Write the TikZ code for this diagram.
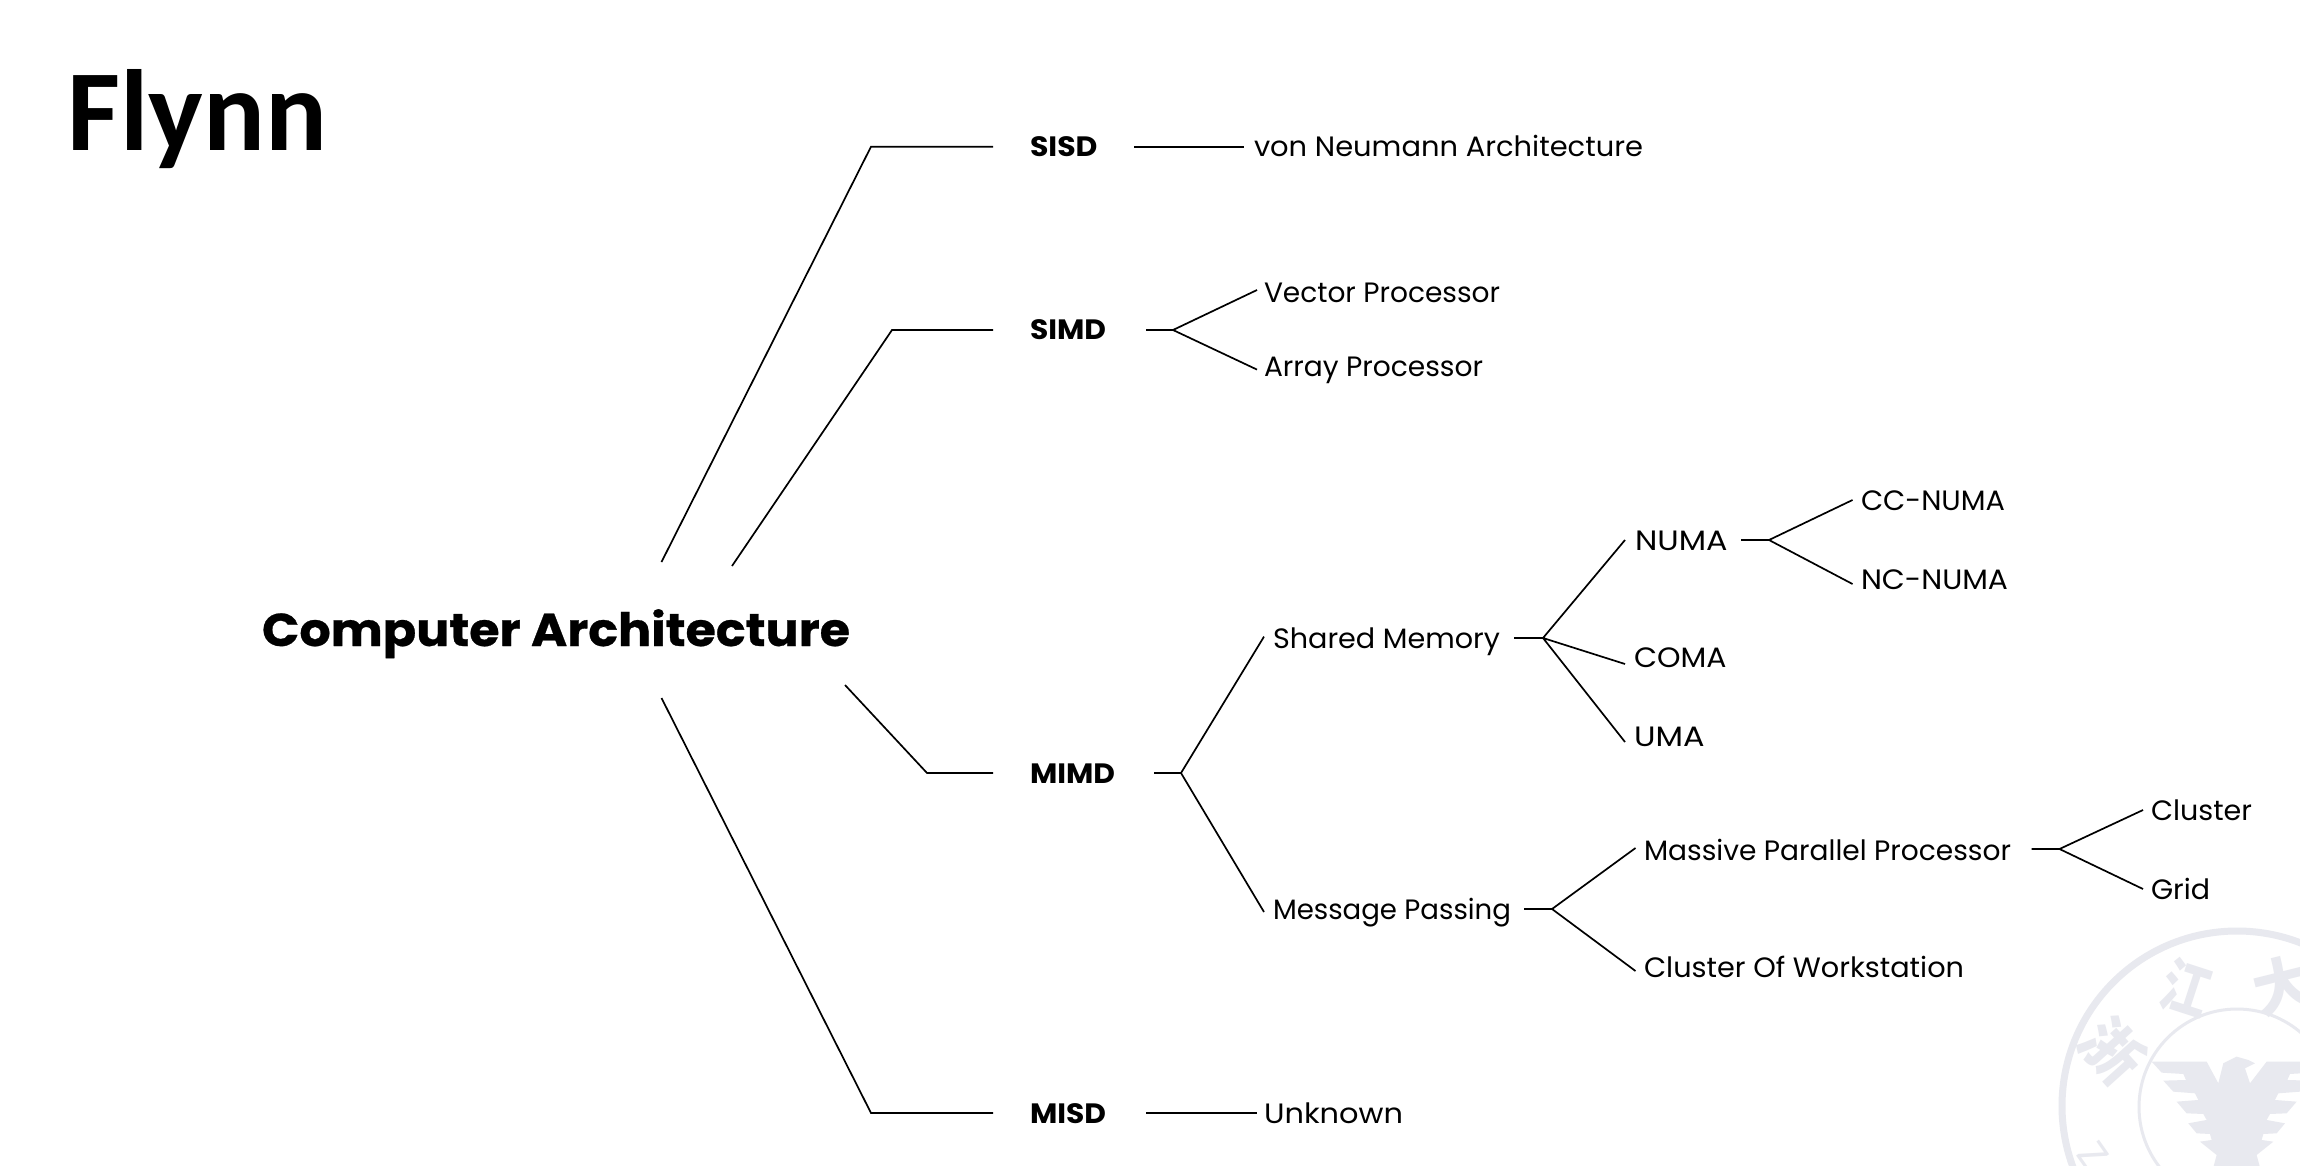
\documentclass[tikz,border=0pt]{standalone}
\usepackage{fontspec}
\usepackage{graphicx}
\setmainfont{Poppins}
\newfontfamily\titlefont{Carlito}
\newfontfamily\cjkfont{Noto Sans CJK SC}
\definecolor{wm}{HTML}{E8E9EF}
\newcommand{\fitw}[2]{\resizebox{#1pt}{\height}{#2}}
\tikzset{
  lab/.style={anchor=base west,inner sep=0pt,outer sep=0pt,font=\fontsize{28}{32}\selectfont,text=black},
  head/.style={lab,font=\fontsize{28}{32}\selectfont\bfseries},
  conn/.style={draw=black,line width=1.7pt,line join=miter},
  seal/.style={text=wm,inner sep=0pt,font=\fontsize{60}{60}\selectfont\cjkfont\bfseries}
}
\begin{document}
\begin{tikzpicture}[x=1pt,y=-1pt]
\useasboundingbox (0,0) rectangle (2300,1165);
\fill[white] (0,0) rectangle (2300,1165);
% watermark
\begin{scope}
\clip (0,0) rectangle (2300,1165);
\draw[wm,line width=7pt] (2237,1106) circle (175);
\draw[wm,line width=3pt] (2237,1107) circle (98);
\begin{scope}[shift={(1950,880)},x=0.3333pt,y=-0.3333pt]
\fill[wm] (605,545) -- (770,545) -- (805,610) -- (820,550) -- (860,530) -- (895,540) -- (915,550) -- (885,565) -- (900,610)
 -- (950,545) -- (1115,545) -- (1085,578) -- (1020,582) -- (1012,600) -- (1080,602) -- (1050,635) -- (985,640) -- (975,660) -- (1040,665) -- (1010,700) -- (960,702) -- (950,720) -- (1005,730) -- (980,760) -- (940,762) -- (935,780) -- (970,785) -- (920,825) -- (940,900)
 -- (780,900) -- (800,825) -- (750,785) -- (785,780) -- (780,762) -- (740,760) -- (715,730) -- (770,720) -- (760,702) -- (710,700) -- (680,665) -- (745,660) -- (735,640) -- (670,635) -- (640,602) -- (708,600) -- (700,582) -- (635,578) -- cycle;
\end{scope}
\node[seal,rotate=-48] (zhe) at (2113,1050) {浙};
\node[seal,rotate=-18,xscale=0.8] (jiang) at (2186,988) {江};
\node[seal,rotate=14] (da) at (2283,985) {大};
\node[seal,font=\fontsize{40}{40}\selectfont,rotate=-55] (zj) at (2093,1155) {Z};
\end{scope}
% title
\node[anchor=base west,inner sep=0pt,font=\fontsize{115.5}{120}\selectfont\titlefont\bfseries] (title) at (67,150) {Flynn};
% labels
\node[head,font=\fontsize{46}{50}\selectfont\bfseries\addfontfeature{FakeBold=0.6}] (root) at (262,646) {\fitw{588}{Computer Architecture}};
\node[head] (sisd) at (1030,156) {\fitw{67.5}{SISD}};
\node[head] (simd) at (1030,339) {\fitw{76}{SIMD}};
\node[head] (mimd) at (1030,783) {\fitw{85}{MIMD}};
\node[head] (misd) at (1030,1123) {\fitw{76}{MISD}};
\node[lab] (von) at (1254,156) {\fitw{389}{von Neumann Architecture}};
\node[lab] (vec) at (1264,302) {\fitw{236}{Vector Processor}};
\node[lab] (arr) at (1264,376) {\fitw{219}{Array Processor}};
\node[lab] (shared) at (1273,648) {\fitw{227}{Shared Memory}};
\node[lab] (msg) at (1273,919) {\fitw{238}{Message Passing}};
\node[lab] (numa) at (1635,550) {\fitw{92.5}{NUMA}};
\node[lab] (coma) at (1634,667) {\fitw{92.5}{COMA}};
\node[lab] (uma) at (1634,746) {\fitw{70.5}{UMA}};
\node[lab] (cc) at (1861,510) {\fitw{144}{CC-NUMA}};
\node[lab] (nc) at (1861,589) {\fitw{147}{NC-NUMA}};
\node[lab] (mpp) at (1644,860) {\fitw{367}{Massive Parallel Processor}};
\node[lab] (cow) at (1644,977) {\fitw{320}{Cluster Of Workstation}};
\node[lab] (cluster) at (2151,820) {\fitw{101}{Cluster}};
\node[lab] (grid) at (2151,899) {\fitw{59}{Grid}};
\node[lab] (unk) at (1264,1123) {\fitw{139}{Unknown}};
% coordinates
\coordinate (r1) at (661.5,562); \coordinate (k1) at (871,146.7); \coordinate (e1) at (993,146.7);
\coordinate (r2) at (732,566); \coordinate (k2) at (892,330); \coordinate (e2) at (993,330);
\coordinate (r3) at (845,685); \coordinate (k3) at (927,773); \coordinate (e3) at (993,773);
\coordinate (r4) at (661.5,698); \coordinate (k4) at (871,1113); \coordinate (e4) at (993,1113);
\coordinate (sisdR) at (1134,146.7); \coordinate (vonL) at (1244,146.7);
\coordinate (simdR) at (1146,330); \coordinate (simdF) at (1173,330); \coordinate (vecL) at (1257,290); \coordinate (arrL) at (1257,369.6);
\coordinate (mimdR) at (1154,773); \coordinate (mimdF) at (1181,773); \coordinate (sharedL) at (1264,636.6); \coordinate (msgL) at (1264,912);
\coordinate (sharedR) at (1514,638); \coordinate (sharedF) at (1543,638); \coordinate (numaL) at (1625,540); \coordinate (comaL) at (1625,664); \coordinate (umaL) at (1625,742);
\coordinate (numaR) at (1741,540); \coordinate (numaF) at (1769,540); \coordinate (ccL) at (1852.5,500); \coordinate (ncL) at (1852.5,584);
\coordinate (msgR) at (1524,909); \coordinate (msgF) at (1552,909); \coordinate (mppL) at (1635.5,848); \coordinate (cowL) at (1635.5,971);
\coordinate (mppR) at (2031.5,849); \coordinate (mppF) at (2059.5,849); \coordinate (clusterL) at (2143,810); \coordinate (gridL) at (2143,889);
\coordinate (misdR) at (1146,1113); \coordinate (unkL) at (1257,1113);
% connectors
\draw[conn] (r1) -- (k1) -- (e1);
\draw[conn] (r2) -- (k2) -- (e2);
\draw[conn] (r3) -- (k3) -- (e3);
\draw[conn] (r4) -- (k4) -- (e4);
\draw[conn] (sisdR) -- (vonL);
\draw[conn] (simdR) -- (simdF) (vecL) -- (simdF) -- (arrL);
\draw[conn] (mimdR) -- (mimdF) (sharedL) -- (mimdF) -- (msgL);
\draw[conn] (sharedR) -- (sharedF) (numaL) -- (sharedF) -- (umaL) (sharedF) -- (comaL);
\draw[conn] (numaR) -- (numaF) (ccL) -- (numaF) -- (ncL);
\draw[conn] (msgR) -- (msgF) (mppL) -- (msgF) -- (cowL);
\draw[conn] (mppR) -- (mppF) (clusterL) -- (mppF) -- (gridL);
\draw[conn] (misdR) -- (unkL);
\end{tikzpicture}
\end{document}
